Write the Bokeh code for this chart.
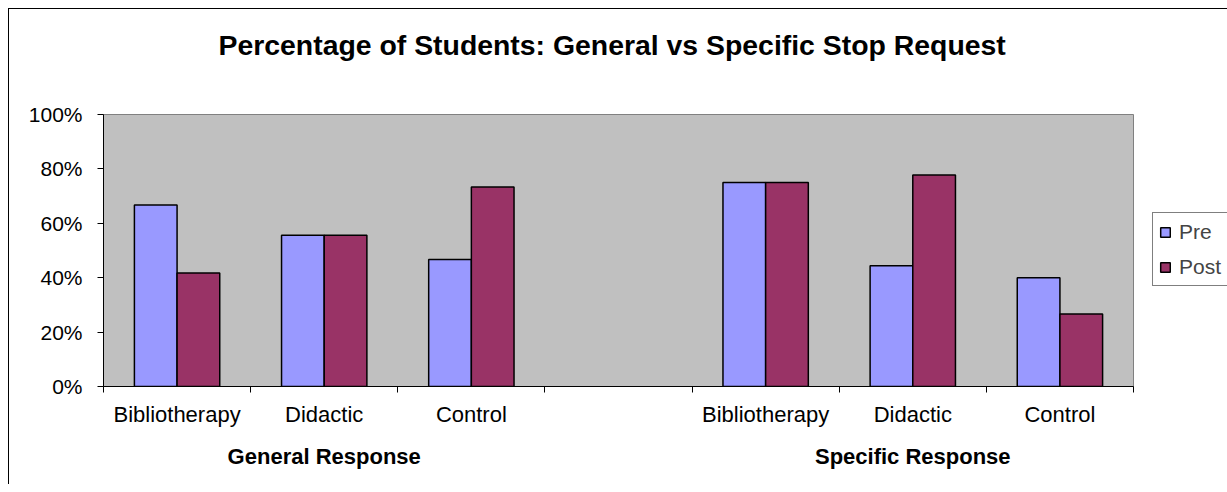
from bokeh.plotting import figure
from bokeh.models import Range1d, FixedTicker, LinearAxis, Legend, LegendItem, ColumnDataSource
from bokeh.embed import file_html
from bokeh.resources import INLINE

title_text = "Percentage of Students: General vs Specific Stop Request"
groups = ["General Response", "Specific Response"]
conditions = ["Bibliotherapy", "Didactic", "Control"]
series_names = ["Pre", "Post"]
general_pre = [66.7, 55.6, 46.7]
general_post = [41.7, 55.6, 73.3]
specific_pre = [75.0, 44.4, 40.0]
specific_post = [75.0, 77.8, 26.7]
y_ticks = [0, 20, 40, 60, 80, 100]
y_tick_labels = ["0%", "20%", "40%", "60%", "80%", "100%"]

FONT = "Liberation Sans"
PRE_COLOR = "#9999FF"
POST_COLOR = "#993366"

# slot layout: 3 conditions, one empty slot, 3 conditions
n_slots = 7
centers = []
labels = []
for g in range(len(groups)):
    for i, c in enumerate(conditions):
        centers.append(g * 4 + i + 0.5)
        labels.append(c)
group_centers = [g * 4 + 1.5 for g in range(len(groups))]

bw = 0.29
pre_vals = general_pre + specific_pre
post_vals = general_post + specific_post
src = ColumnDataSource(dict(
    x_pre=[c - bw / 2 for c in centers],
    x_post=[c + bw / 2 for c in centers],
    pre=pre_vals,
    post=post_vals,
))

p = figure(
    frame_width=1030, frame_height=272,
    min_border_left=94, min_border_right=92, min_border_top=105, min_border_bottom=98,
    x_range=Range1d(0, n_slots), y_range=Range1d(0, 100),
    output_backend="svg", toolbar_location=None, tools="",
    background_fill_color="#C0C0C0", border_fill_color="white",
    outline_line_color="#808080", outline_line_width=1,
)
p.styles = {"margin-left": "8px", "margin-top": "8px",
            "border-left": "1px solid black", "border-top": "1px solid black"}

xa = p.xaxis[0]
ya = p.yaxis[0]

p.title.text = title_text
p.title.text_font = FONT
p.title.text_font_size = "28.4px"
p.title.text_font_style = "bold"
p.title.text_color = "black"
p.title.align = "left"
p.title.offset = 115
p.title.vertical_align = "top"
p.title.standoff = 0

p.grid.visible = False

r_pre = p.vbar(x="x_pre", top="pre", width=bw, source=src, fill_color=PRE_COLOR,
               line_color="black", line_width=1.5)
r_post = p.vbar(x="x_post", top="post", width=bw, source=src, fill_color=POST_COLOR,
                line_color="black", line_width=1.5)

# y axis
ya.ticker = FixedTicker(ticks=y_ticks)
ya.major_label_overrides = {t: l for t, l in zip(y_ticks, y_tick_labels)}
ya.major_label_text_font = FONT
ya.major_label_text_font_size = "21px"
ya.major_label_text_color = "black"
ya.major_tick_out = 6
ya.major_tick_in = 0
ya.minor_tick_line_color = None
ya.axis_line_color = "black"
ya.major_tick_line_color = "black"
ya.major_label_standoff = 15

# category axis
xa.ticker = FixedTicker(ticks=centers, minor_ticks=list(range(n_slots + 1)))
xa.major_label_overrides = {c: l for c, l in zip(centers, labels)}
xa.major_label_text_font = FONT
xa.major_label_text_font_size = "22px"
xa.major_label_text_color = "black"
xa.major_tick_line_color = None
xa.major_tick_out = 0
xa.major_tick_in = 0
xa.minor_tick_out = 6
xa.minor_tick_in = 0
xa.minor_tick_line_color = "black"
xa.axis_line_color = "black"
xa.major_label_standoff = 9

# group axis
ga = LinearAxis(
    ticker=FixedTicker(ticks=group_centers),
    major_label_overrides={c: g for c, g in zip(group_centers, groups)},
    axis_line_color=None, major_tick_line_color=None, minor_tick_line_color=None,
    major_tick_out=0, major_tick_in=0,
    major_label_text_font=FONT, major_label_text_font_size="22px",
    major_label_text_font_style="bold", major_label_text_color="black",
    major_label_standoff=14,
)
p.add_layout(ga, "below")

# blank spacer band between plot area and title
mid = n_slots / 2
spacer = LinearAxis(
    ticker=FixedTicker(ticks=[mid]), major_label_overrides={mid: " "},
    axis_line_color=None, major_tick_line_color=None, minor_tick_line_color=None,
    major_tick_out=48, major_tick_in=0, minor_tick_out=0, minor_tick_in=0,
    major_label_standoff=0, major_label_text_font_size="1px",
)
p.add_layout(spacer, "above")

legend = Legend(
    items=[LegendItem(label=series_names[0], renderers=[r_pre]),
           LegendItem(label=series_names[1], renderers=[r_post])],
    location=(19, 100),
    label_text_font=FONT, label_text_font_size="21px",
    glyph_width=12, glyph_height=12, label_height=25, label_standoff=8,
    spacing=10, padding=6, margin=0,
    border_line_color="black", border_line_width=1,
    background_fill_color="white", background_fill_alpha=1,
)
p.add_layout(legend, "right")

open("out.html", "w").write(file_html(p, INLINE))
